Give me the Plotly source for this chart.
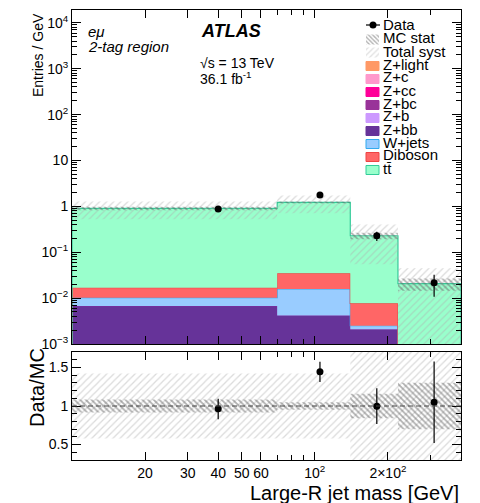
import numpy as np
import plotly.graph_objects as go

# ---------------- data ----------------
edges = [10, 70, 140, 220, 400]
centers = [40, 105, 180, 310]
zbb = [0.0067, 0.0042, 0.0021, 0.0]
wjets = [0.0035, 0.0116, 0.0004, 0.0]
diboson = [0.0067, 0.0189, 0.0052, 0.0]
ttbar = [0.887, 1.185, 0.221, 0.0206]
data = [0.872, 1.76, 0.228, 0.0216]
data_err_up = [0.116, 0.159, 0.053, 0.0109]
data_err_dn = [0.122, 0.159, 0.053, 0.0109]
mc_stat_rel = [0.085, 0.05, 0.16, 0.30]
syst_rel = [0.42, 0.42, 0.76, 1.16]

legend_names = ["Z+light", "Z+c", "Z+cc", "Z+bc", "Z+b", "Z+bb", "W+jets", "Diboson", "tt̄"]
legend_fill = ["#ff9966", "#ff99cc", "#ff0099", "#993399", "#cc99ff", "#663399", "#99ccff", "#ff6666", "#99ffcc"]
legend_line = ["#ff9966", "#ff99cc", "#ff0099", "#993399", "#cc99ff", "#663399", "#33aaee", "#ee4444", "#33cc99"]

stack = [("Z+bb", zbb, "#663399", "#7a2e9e"),
         ("W+jets", wjets, "#99ccff", "#33aaee"),
         ("Diboson", diboson, "#ff6666", "#ee4444"),
         ("tt", ttbar, "#99ffcc", "#33cc99")]

FONT = "Liberation Sans, Arial, sans-serif"
FLOOR = 1e-6

# plot-area geometry (pixels) used for text placement
PL, PR, PT, PB = 72, 461, 10, 460

fig = go.Figure()

def step_poly(lo, up):
    xs, ys = [], []
    for i in range(len(up)):
        xs += [edges[i], edges[i + 1]]
        ys += [up[i], up[i]]
    for i in reversed(range(len(lo))):
        xs += [edges[i + 1], edges[i]]
        ys += [lo[i], lo[i]]
    xs.append(xs[0]); ys.append(ys[0])
    return xs, ys

def step_line(up):
    xs, ys = [edges[0]], [FLOOR]
    for i in range(len(up)):
        xs += [edges[i], edges[i + 1]]
        ys += [up[i], up[i]]
    xs.append(edges[-1]); ys.append(FLOOR)
    return xs, ys

cum = np.zeros(len(edges) - 1)
for name, vals, fc, lc in stack:
    lo = np.maximum(cum, FLOOR)
    cum = cum + np.array(vals)
    up = np.maximum(cum, FLOOR)
    xs, ys = step_poly(lo, up)
    fig.add_trace(go.Scatter(x=xs, y=ys, fill="toself", fillcolor=fc, mode="lines",
                             line=dict(width=0, color=fc), xaxis="x", yaxis="y",
                             showlegend=False, hoverinfo="skip"))
    xs, ys = step_line(up)
    fig.add_trace(go.Scatter(x=xs, y=ys, mode="lines", line=dict(width=1.2, color=lc),
                             xaxis="x", yaxis="y", showlegend=False, hoverinfo="skip"))

mc_total = cum

SYST_COL = "rgba(175,175,175,0.9)"
STAT_COL = "rgba(100,100,100,1)"

def band(center_vals, rel, axis_x, axis_y, shape, color, size, solidity, floor):
    for i in range(len(center_vals)):
        lo = max(center_vals[i] * (1 - rel[i]), floor)
        hi = center_vals[i] * (1 + rel[i])
        xs = [edges[i], edges[i + 1], edges[i + 1], edges[i], edges[i]]
        ys = [lo, lo, hi, hi, lo]
        fig.add_trace(go.Scatter(x=xs, y=ys, fill="toself", mode="lines",
                                 fillcolor="rgba(0,0,0,0)", line=dict(width=0),
                                 fillpattern=dict(shape=shape, fgcolor=color, bgcolor="rgba(0,0,0,0)",
                                                  size=size, solidity=solidity),
                                 xaxis=axis_x, yaxis=axis_y, showlegend=False, hoverinfo="skip"))

# main-panel bands
band(list(mc_total), syst_rel, "x", "y", "/", SYST_COL, 5, 0.25, FLOOR)
band(list(mc_total), mc_stat_rel, "x", "y", "\\", STAT_COL, 4, 0.45, FLOOR)

# data main
fig.add_trace(go.Scatter(x=centers, y=data, mode="markers",
                         marker=dict(color="black", size=7),
                         error_y=dict(type="data", array=data_err_up, arrayminus=data_err_dn,
                                      color="black", thickness=1.2, width=0),
                         xaxis="x", yaxis="y", showlegend=False))

# ratio panel
ones = [1.0] * len(centers)
band(ones, syst_rel, "x2", "y2", "/", SYST_COL, 5, 0.25, 0.0)
band(ones, mc_stat_rel, "x2", "y2", "\\", STAT_COL, 4, 0.45, 0.0)

ratio = [d / m for d, m in zip(data, mc_total)]
r_up = [e / m for e, m in zip(data_err_up, mc_total)]
r_dn = [e / m for e, m in zip(data_err_dn, mc_total)]
fig.add_trace(go.Scatter(x=centers, y=ratio, mode="markers",
                         marker=dict(color="black", size=7),
                         error_y=dict(type="data", array=r_up, arrayminus=r_dn,
                                      color="black", thickness=1.2, width=0),
                         xaxis="x2", yaxis="y2", showlegend=False))

# ---------------- legend (overlay in pixel coords) ----------------
row0, dy = 25, 13.0
lx0, lx1 = 366, 379
tx = 381
fig.add_trace(go.Scatter(x=[lx0, lx1 + 1], y=[row0, row0], mode="lines", line=dict(color="black", width=1.2),
                         xaxis="x3", yaxis="y3", showlegend=False, hoverinfo="skip"))
fig.add_trace(go.Scatter(x=[(lx0 + lx1 + 1) / 2], y=[row0], mode="markers", marker=dict(color="black", size=7),
                         xaxis="x3", yaxis="y3", showlegend=False, hoverinfo="skip"))
for k, (shape, col, sz, sol) in enumerate([("\\", STAT_COL, 3, 0.45), ("/", "rgba(190,190,190,1)", 4, 0.3)]):
    yc = row0 + (k + 1) * dy + 1.5
    fig.add_trace(go.Scatter(x=[lx0, lx1, lx1, lx0, lx0], y=[yc - 5, yc - 5, yc + 5, yc + 5, yc - 5],
                             fill="toself", mode="lines", line=dict(width=0), fillcolor="rgba(0,0,0,0)",
                             fillpattern=dict(shape=shape, fgcolor=col, bgcolor="rgba(0,0,0,0)", size=sz, solidity=sol),
                             xaxis="x3", yaxis="y3", showlegend=False, hoverinfo="skip"))
shapes = []
for k, (fc, lc) in enumerate(zip(legend_fill, legend_line)):
    yc = row0 + (k + 3) * dy + 2
    shapes.append(dict(type="rect", xref="x3", yref="y3", x0=lx0, x1=lx1, y0=yc - 4.5, y1=yc + 4.5,
                       fillcolor=fc, line=dict(color=lc, width=1)))

def px2paper(px, py):
    return (px - PL) / (PR - PL), (PB - py) / (PB - PT)

texts = ["Data", "MC stat", "Total syst"] + legend_names
annotations = []

def ann(text, x, y, size, xa="left", ya="middle", angle=0):
    xp, yp = px2paper(x, y)
    annotations.append(dict(text=text, x=xp, y=yp, xref="paper", yref="paper", xanchor=xa, yanchor=ya,
                            textangle=angle, showarrow=False, font=dict(size=size, color="black", family=FONT)))

for k, t in enumerate(texts):
    ann(t, tx, row0 + k * dy, 15)

ann("<i>eμ</i>", 86, 32, 15)
ann("<i>2-tag region</i>", 86, 47, 15)
ann("<b><i>ATLAS</i></b>", 199, 31, 18)
ann("√s = 13 TeV", 198, 63, 14)
ann("36.1 fb<sup>-1</sup>", 198, 78, 14)
ann("Entries / GeV", 38, 11, 14, xa="center", ya="top", angle=-90)
ann("Data/MC", 37, 388, 20, xa="center", ya="middle", angle=-90)
ann("Large-R jet mass [GeV]", 461, 493, 20, xa="right", ya="middle")

# ratio = 1 dashed line
shapes.append(dict(type="line", xref="x2 domain", yref="y2", x0=0, x1=1, y0=1, y1=1,
                   line=dict(color="#444444", width=1, dash="5px,3px")))

# ---------------- axes ----------------
ymaj = [1e-3, 1e-2, 1e-1, 1, 10, 1e2, 1e3, 1e4]
ytxt = ["10<sup>−3</sup>", "10<sup>−2</sup>", "10<sup>−1</sup>", "1", "10",
        "10<sup>2</sup>", "10<sup>3</sup>", "10<sup>4</sup>"]
yminor = [m * 10.0 ** k for k in range(-3, 4) for m in range(2, 10)]
xmaj = [20, 30, 40, 50, 60, 100, 200]
xtxt = ["20", "30", "40", "50", "60", "10<sup>2</sup>", "2×10<sup>2</sup>"]
xminor = [70, 80, 90, 300, 400]

tickfont = dict(size=14, color="black", family=FONT)
common = dict(showline=True, linecolor="black", linewidth=1, mirror="ticks", ticks="inside",
              showgrid=False, zeroline=False, tickcolor="black", tickfont=tickfont)

xr = [np.log10(edges[0]), np.log10(edges[-1])]
fig.update_layout(
    width=480, height=503,
    margin=dict(l=PL, r=480 - PR, t=PT, b=503 - PB),
    paper_bgcolor="white", plot_bgcolor="rgba(0,0,0,0)",
    showlegend=False,
    xaxis=dict(type="log", range=xr, domain=[0, 1], anchor="y", tickmode="array", tickvals=xmaj,
               showticklabels=False, ticklen=8,
               minor=dict(ticks="inside", tickmode="array", tickvals=xminor, ticklen=5, tickcolor="black"),
               **common),
    yaxis=dict(type="log", range=[-3, 4.28], domain=[0.2578, 1], anchor="x", tickmode="array",
               tickvals=ymaj, ticktext=ytxt, ticklen=9,
               minor=dict(ticks="inside", tickmode="array", tickvals=yminor, ticklen=5, tickcolor="black"),
               **common),
    xaxis2=dict(type="log", range=xr, domain=[0, 1], anchor="y2", tickmode="array", tickvals=xmaj,
                ticktext=xtxt, ticklen=8,
                minor=dict(ticks="inside", tickmode="array", tickvals=xminor, ticklen=5, tickcolor="black"),
                **common),
    yaxis2=dict(range=[0.3, 1.7], domain=[0, 0.24], anchor="x2", tickmode="array",
                tickvals=[0.5, 1.0, 1.5], ticktext=["0.5", "1", "1.5"], ticklen=9,
                minor=dict(ticks="inside", dtick=0.1, ticklen=5, tickcolor="black"),
                **common),
    xaxis3=dict(range=[PL, PR], domain=[0, 1], anchor="y3", visible=False, fixedrange=True),
    yaxis3=dict(range=[PB, PT], domain=[0, 1], anchor="x3", visible=False, fixedrange=True),
    shapes=shapes,
    annotations=annotations,
)

fig.write_html("out.html")
